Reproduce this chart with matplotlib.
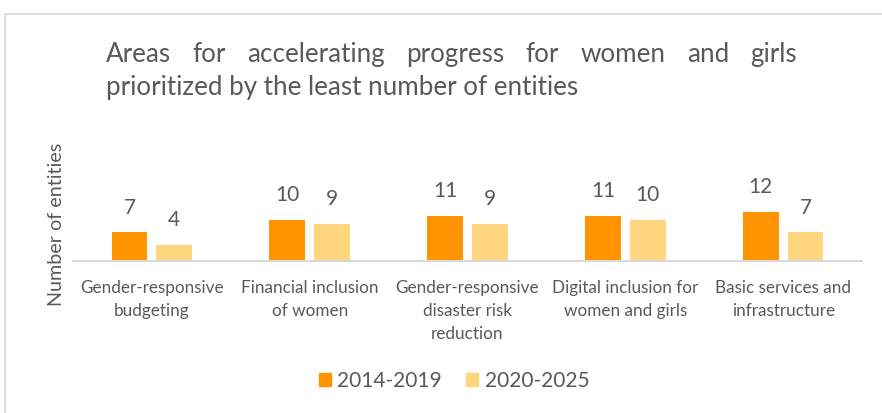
import numpy as np
import matplotlib
matplotlib.use("Agg")
import matplotlib.pyplot as plt
from matplotlib.lines import Line2D
from matplotlib.patches import Patch

plt.rcParams['font.family'] = ['Lato', 'DejaVu Sans']

categories = ["Gender-responsive\nbudgeting",
              "Financial inclusion\nof women",
              "Gender-responsive\ndisaster risk\nreduction",
              "Digital inclusion for\nwomen and girls",
              "Basic services and\ninfrastructure"]
series_names = ["2014-2019", "2020-2025"]
values_2014 = [7, 10, 11, 11, 12]
values_2020 = [4, 9, 9, 10, 7]
title_lines = ["Areas for accelerating progress for women and girls",
               "prioritized by the least number of entities"]

grey = '#595959'
colors = ['#FF9300', '#FFD67E']
W, H = 882, 413

fig = plt.figure(figsize=(W / 100, H / 100), dpi=100)
ax = fig.add_axes([73 / W, 1 - 261 / H, (862 - 73) / W, (261 - 138) / H])

x = np.arange(len(categories))
bw = 0.228
off = 0.142
for vals, c, d in [(values_2014, colors[0], -off), (values_2020, colors[1], off)]:
    bars = ax.bar(x + d, vals, width=bw, color=c, zorder=2)
    for b, v in zip(bars, vals):
        ax.annotate(str(v), (b.get_x() + b.get_width() / 2, v), xytext=(0, 13.5),
                    textcoords='offset points', ha='center', va='baseline',
                    fontsize=15, color=grey)

ax.set_xlim(-0.5, len(categories) - 0.5)
ax.set_ylim(0, 30)
for s in ['top', 'right', 'left']:
    ax.spines[s].set_visible(False)
ax.spines['bottom'].set_color('#D9D9D9')
ax.spines['bottom'].set_linewidth(1.5)
ax.set_yticks([])
ax.set_xticks([])

for i, lab in enumerate(categories):
    ax.annotate(lab, (i, 0), xytext=(0, -13.5), textcoords='offset points',
                ha='center', va='top', fontsize=12.3, color=grey, linespacing=1.55,
                annotation_clip=False)

fig.text(57 / W, 1 - 224 / H, "Number of entities", rotation=90, ha='center',
         va='center', fontsize=14.2, color=grey)

# chart frame
fig.add_artist(Line2D([5 / W, 1], [1 - 14 / H, 1 - 14 / H], color='#D9D9D9', lw=1.2))
fig.add_artist(Line2D([5 / W, 5 / W], [0, 1 - 14 / H], color='#D9D9D9', lw=1.2))

# justified title
fig.canvas.draw()
r = fig.canvas.get_renderer()
left, right = 106, 797
base = [62, 95]
tsize = 17
t = fig.text(0, 0, title_lines[1], fontsize=tsize)
wpx = t.get_window_extent(r).width
tsize = tsize * 472 / wpx
t.remove()

words = title_lines[0].split()
widths = []
for w in words:
    tt = fig.text(0, 0, w, fontsize=tsize)
    widths.append(tt.get_window_extent(r).width)
    tt.remove()
gap = (right - left - sum(widths)) / (len(words) - 1)
xpos = left
for w, wd in zip(words, widths):
    fig.text(xpos / W, 1 - base[0] / H, w, fontsize=tsize, color=grey, va='baseline')
    xpos += wd + gap
fig.text(left / W, 1 - base[1] / H, title_lines[1], fontsize=tsize, color=grey, va='baseline')

handles = [Patch(color=c) for c in colors]
fig.legend(handles, series_names, loc='center', bbox_to_anchor=(454 / W, 1 - 381 / H),
           ncol=2, frameon=False, fontsize=15, handlelength=0.6, handleheight=0.6,
           handletextpad=0.3, columnspacing=1.15, labelcolor=grey)

fig.savefig('out.png', dpi=100)
